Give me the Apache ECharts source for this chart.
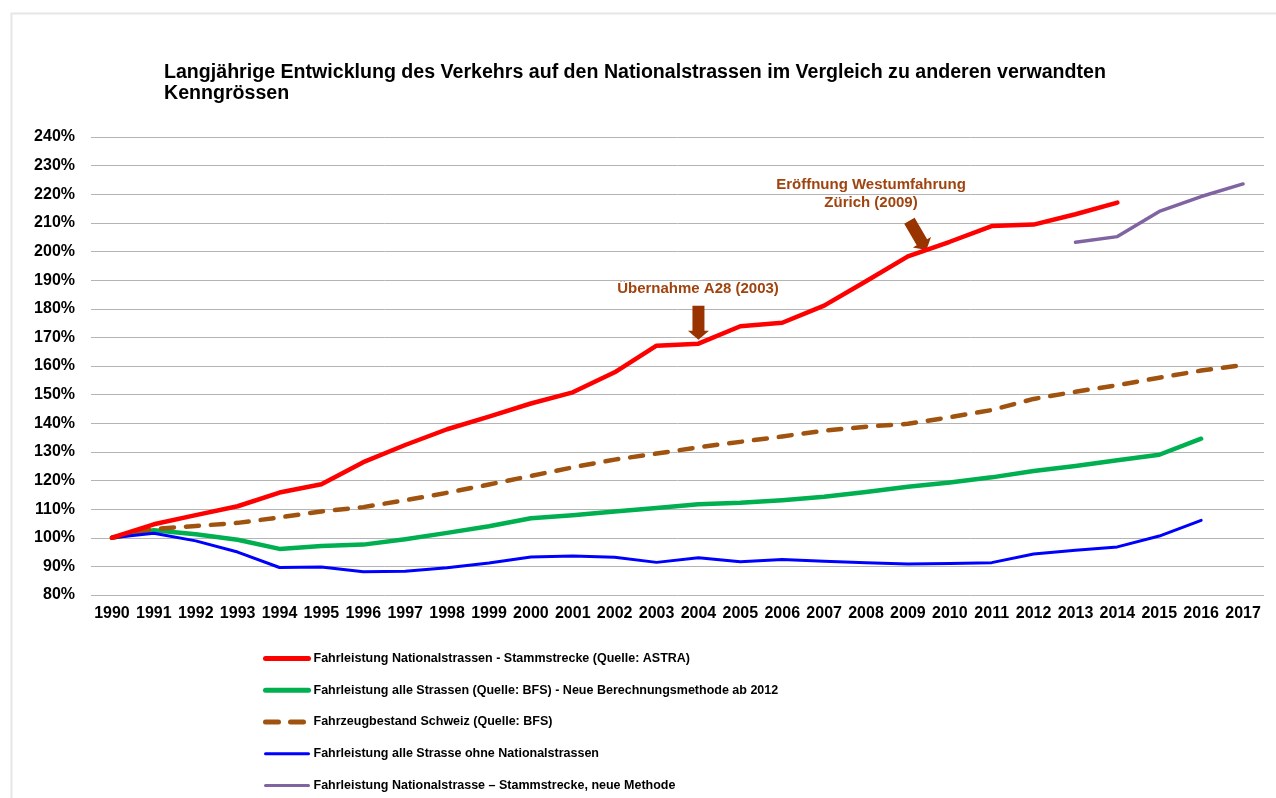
<!DOCTYPE html>
<html>
<head>
<meta charset="utf-8">
<title>Langjährige Entwicklung des Verkehrs</title>
<script src="https://cdn.jsdelivr.net/npm/echarts@6/dist/echarts.min.js"></script>
<style>
  html, body { margin: 0; padding: 0; background: #fff; }
  #chart { width: 1276px; height: 798px; }
</style>
</head>
<body>
<div id="chart"></div>
<script>
var years = ['1990', '1991', '1992', '1993', '1994', '1995', '1996', '1997', '1998', '1999',
  '2000', '2001', '2002', '2003', '2004', '2005', '2006', '2007', '2008', '2009',
  '2010', '2011', '2012', '2013', '2014', '2015', '2016', '2017'];

// Fahrleistung Nationalstrassen - Stammstrecke (ASTRA)
var nationalValues = [100, 104.7, 107.9, 111, 115.8, 118.7, 126.4, 132.4, 137.9, 142.3,
  146.9, 150.8, 157.8, 167.1, 167.8, 173.9, 175.1, 181.1, 189.6, 198.3,
  203.4, 208.9, 209.4, 213, 217.1, null, null, null];

// Fahrleistung alle Strassen (BFS)
var alleValues = [100, 102.6, 101.2, 99.3, 96.1, 97.1, 97.6, 99.5, 101.7, 104,
  106.8, 107.9, 109.2, 110.4, 111.7, 112.2, 113.1, 114.3, 116, 117.8,
  119.3, 121.1, 123.3, 125.1, 127.1, 129, 134.6, null];

// Fahrzeugbestand Schweiz (BFS)
var bestandValues = [100, 103.1, 104.1, 105.2, 107.1, 109.2, 110.7, 113.1, 115.7, 118.6,
  121.6, 124.6, 127.3, 129.4, 131.6, 133.5, 135.4, 137.4, 138.8, 139.8,
  142.1, 144.6, 148.5, 151, 153.3, 155.9, 158.4, 160.3];

// Fahrleistung alle Strassen ohne Nationalstrassen
var ohneValues = [100, 101.6, 98.9, 95, 89.6, 89.8, 88.1, 88.3, 89.5, 91.2,
  93.3, 93.6, 93.2, 91.4, 93, 91.6, 92.4, 91.8, 91.3, 90.8,
  91, 91.3, 94.3, 95.6, 96.8, 100.6, 106.1, null];

// Nationalstrasse, neue Methode
var neuValues = [null, null, null, null, null, null, null, null, null, null,
  null, null, null, null, null, null, null, null, null, null,
  null, null, null, 203.2, 205.2, 214, 219.2, 223.6];

var seriesNames = [
  'Fahrleistung Nationalstrassen - Stammstrecke (Quelle: ASTRA)',
  'Fahrleistung alle Strassen (Quelle: BFS) - Neue Berechnungsmethode ab 2012',
  'Fahrzeugbestand Schweiz (Quelle: BFS)',
  'Fahrleistung alle Strasse ohne Nationalstrassen',
  'Fahrleistung Nationalstrasse \u2013 Stammstrecke, neue Methode'
];

var yMin = 80;
var yMax = 240;
var yStep = 10;

(function () {
  var FONT = '"Liberation Sans", Arial, sans-serif';
  var NOTE_COLOR = '#a0440f';
  var ARROW_COLOR = '#993300';
  var ARROW_PATH = 'path://M4.5,0 L16.5,0 L16.5,25 L21,25 L10.5,34 L0,25 L4.5,25 Z';

  var colors = ['#ff0000', '#00b050', '#a0520f', '#0000ff', '#8064a2'];
  var widths = [4.5, 4.5, 4.5, 3, 3.5];
  var legendWidths = [5, 5, 5, 3, 3];

  var chart = echarts.init(document.getElementById('chart'), null, { renderer: 'canvas' });

  function lineSeries(index, data, dashed) {
    return {
      name: seriesNames[index],
      type: 'line',
      data: data,
      symbol: 'none',
      showSymbol: false,
      smooth: false,
      connectNulls: false,
      animation: false,
      lineStyle: {
        color: colors[index],
        width: widths[index],
        type: dashed ? [13, 12] : 'solid',
        cap: 'round',
        join: 'round'
      },
      itemStyle: { color: colors[index] }
    };
  }

  var redSeries = lineSeries(0, nationalValues, false);
  redSeries.z = 5;
  // Pfeile der Anmerkungen, an den Datenpunkten verankert
  redSeries.markPoint = {
    silent: true,
    animation: false,
    label: { show: false },
    data: [
      {
        coord: ['2004', nationalValues[14]],
        symbol: ARROW_PATH,
        symbolSize: [21, 34],
        symbolOffset: [0, -21],
        itemStyle: { color: ARROW_COLOR }
      },
      {
        coord: ['2009', nationalValues[19]],
        symbol: ARROW_PATH,
        symbolSize: [21, 34],
        symbolRotate: 30,
        symbolOffset: [10, -21],
        itemStyle: { color: ARROW_COLOR }
      }
    ]
  };

  var legendData = seriesNames.map(function (name, i) {
    return {
      name: name,
      lineStyle: { width: legendWidths[i] }
    };
  });

  var option = {
    backgroundColor: '#fff',
    animation: false,
    textStyle: { fontFamily: FONT },
    title: {
      text: 'Langjährige Entwicklung des Verkehrs auf den Nationalstrassen im Vergleich zu anderen verwandten\nKenngrössen',
      left: 159,
      top: 57,
      textStyle: {
        fontFamily: FONT,
        fontSize: 19.6,
        fontWeight: 'bold',
        color: '#000',
        lineHeight: 21
      }
    },
    grid: {
      left: 91,
      right: 12,
      top: 137,
      bottom: 203,
      containLabel: false
    },
    legend: {
      orient: 'vertical',
      left: 258,
      top: 646.5,
      itemWidth: 43,
      itemHeight: 14,
      itemGap: 17.75,
      selectedMode: false,
      itemStyle: { opacity: 0 },
      textStyle: {
        fontFamily: FONT,
        fontSize: 12.5,
        lineHeight: 14,
        fontWeight: 'bold',
        color: '#000'
      },
      data: legendData
    },
    xAxis: {
      type: 'category',
      data: years,
      boundaryGap: true,
      axisLine: { show: false },
      axisTick: { show: false },
      splitLine: { show: false },
      axisLabel: {
        interval: 0,
        margin: 11,
        color: '#000',
        fontFamily: FONT,
        fontSize: 16,
        fontWeight: 'bold'
      }
    },
    yAxis: {
      type: 'value',
      min: yMin,
      max: yMax,
      interval: yStep,
      axisLine: { show: false },
      axisTick: { show: false },
      axisLabel: {
        formatter: '{value}%',
        margin: 16,
        color: '#000',
        fontFamily: FONT,
        fontSize: 16,
        fontWeight: 'bold'
      },
      splitLine: {
        lineStyle: { color: '#b4b4b4', width: 1 }
      }
    },
    graphic: [
      {
        type: 'rect',
        left: 9,
        top: 11,
        shape: { width: 1300, height: 900 },
        style: { fill: 'none', stroke: '#e6e6e6', lineWidth: 2 },
        silent: true,
        z: -10
      },
      {
        type: 'text',
        x: 698,
        y: 289,
        style: {
          text: 'Übernahme A28 (2003)',
          fill: NOTE_COLOR,
          font: 'bold 15px ' + FONT,
          textAlign: 'center',
          textVerticalAlign: 'middle'
        }
      },
      {
        type: 'text',
        x: 871,
        y: 194,
        style: {
          text: 'Eröffnung Westumfahrung\nZürich (2009)',
          fill: NOTE_COLOR,
          font: 'bold 15px ' + FONT,
          lineHeight: 18,
          textAlign: 'center',
          textVerticalAlign: 'middle'
        }
      }
    ],
    series: [
      redSeries,
      lineSeries(1, alleValues, false),
      lineSeries(2, bestandValues, true),
      lineSeries(3, ohneValues, false),
      lineSeries(4, neuValues, false)
    ]
  };

  chart.setOption(option);
})();
</script>
</body>
</html>
